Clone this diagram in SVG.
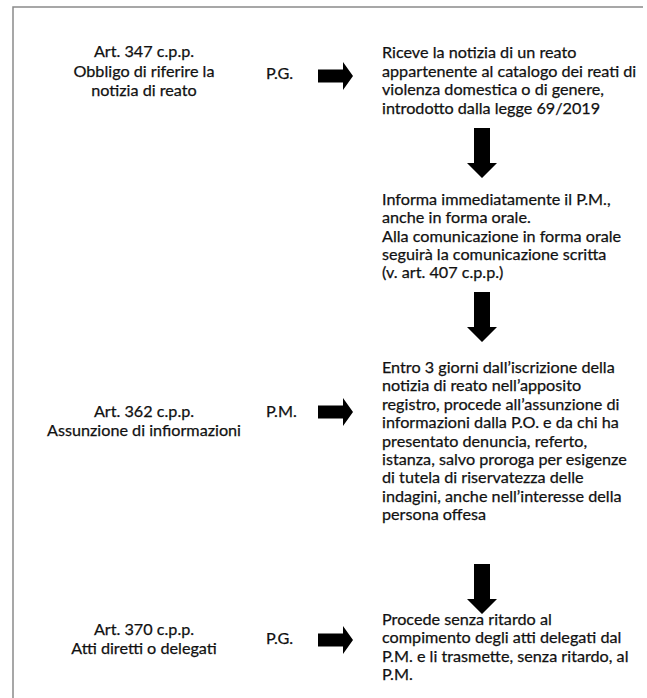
<svg xmlns="http://www.w3.org/2000/svg" width="647" height="698" viewBox="0 0 647 698">
<style>
text{font-family:Lato,"Noto Sans",sans-serif;font-size:16.2px;fill:#111;stroke:#111;stroke-width:0.25}
.c{text-anchor:middle}
.arr{fill:#000}
.frame{stroke:#8a8a8a;stroke-width:1.5;fill:none}
</style>
<defs>
<path id="ra" d="M0,-6.5 H25 V-14 L35,0 L25,14 V6.5 H0 Z"/>
<path id="da" d="M-8,0 H8 V35 H15 L0,50 L-15,35 H-8 Z"/>
</defs>
<rect width="647" height="698" fill="#fff"/>
<path class="frame" d="M13,698 V7 H643"/>
<g id="left1">
<text class="c" x="144" y="57">Art. 347 c.p.p.</text>
<text class="c" x="144" y="76.5">Obbligo di riferire la</text>
<text class="c" x="144" y="96">notizia di reato</text>
</g>
<g id="actor1"><text x="266" y="79">P.G.</text></g>
<g id="step1">
<text x="382" y="58">Riceve la notizia di un reato</text>
<text x="382" y="76.5">appartenente al catalogo dei reati di</text>
<text x="382" y="95">violenza domestica o di genere,</text>
<text x="382" y="113.5">introdotto dalla legge 69/2019</text>
</g>
<g id="step2">
<text x="382" y="205">Informa immediatamente il P.M.,</text>
<text x="382" y="223.3">anche in forma orale.</text>
<text x="382" y="241.6">Alla comunicazione in forma orale</text>
<text x="382" y="260">seguirà la comunicazione scritta</text>
<text x="382" y="278.3">(v. art. 407 c.p.p.)</text>
</g>
<g id="left2">
<text class="c" x="144" y="417">Art. 362 c.p.p.</text>
<text class="c" x="144" y="436">Assunzione di infiormazioni</text>
</g>
<g id="actor2"><text x="266" y="417">P.M.</text></g>
<g id="step3">
<text x="382" y="373">Entro 3 giorni dall’iscrizione della</text>
<text x="382" y="391.4">notizia di reato nell’apposito</text>
<text x="382" y="409.8">registro, procede all’assunzione di</text>
<text x="382" y="428.2">informazioni dalla P.O. e da chi ha</text>
<text x="382" y="446.6">presentato denuncia, referto,</text>
<text x="382" y="465">istanza, salvo proroga per esigenze</text>
<text x="382" y="483.4">di tutela di riservatezza delle</text>
<text x="382" y="501.8">indagini, anche nell’interesse della</text>
<text x="382" y="520.2">persona offesa</text>
</g>
<g id="left3">
<text class="c" x="144" y="635">Art. 370 c.p.p.</text>
<text class="c" x="144" y="654">Atti diretti o delegati</text>
</g>
<g id="actor3"><text x="266" y="644">P.G.</text></g>
<g id="step4">
<text x="382" y="625">Procede senza ritardo al</text>
<text x="382" y="643.4">compimento degli atti delegati dal</text>
<text x="382" y="661.8">P.M. e li trasmette, senza ritardo, al</text>
<text x="382" y="680.2">P.M.</text>
</g>
<g id="connectors" class="arr">
<use href="#ra" x="318" y="76"/>
<use href="#ra" x="318" y="412"/>
<use href="#ra" x="318" y="640"/>
<use href="#da" x="482" y="128"/>
<use href="#da" x="482" y="292"/>
<use href="#da" x="482" y="564"/>
</g>
</svg>
